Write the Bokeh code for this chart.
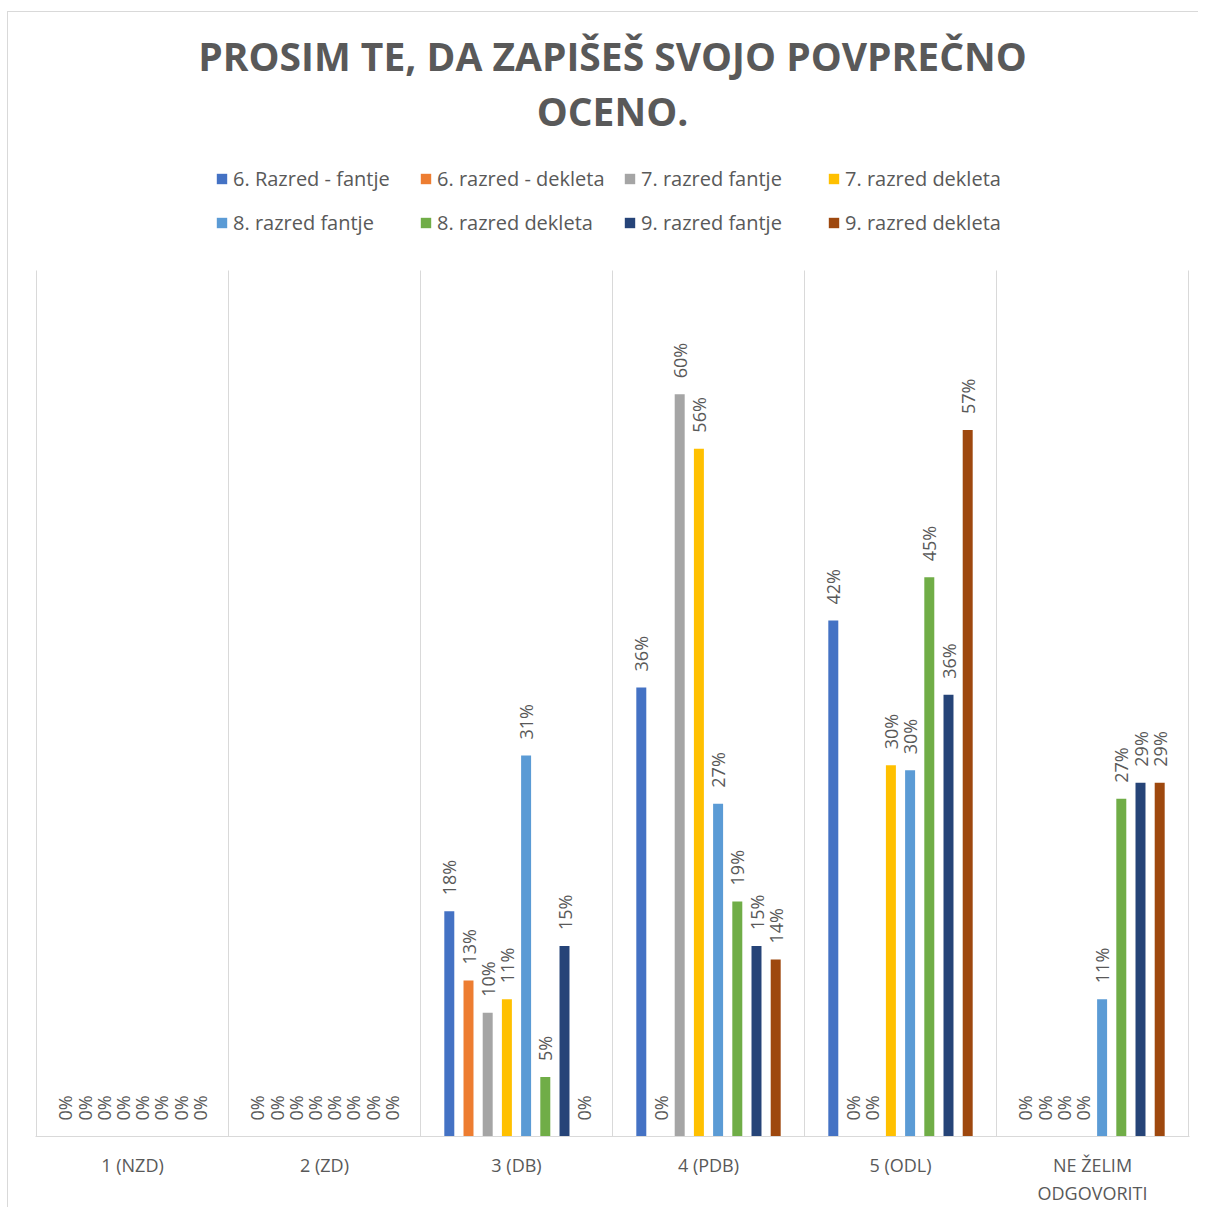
import math
from bokeh.plotting import figure
from bokeh.models import (ColumnDataSource, Range1d, FixedTicker, Legend, LegendItem, Title)
from bokeh.transform import dodge
from bokeh.core.properties import value
from bokeh.embed import file_html
from bokeh.resources import INLINE

categories = ["1 (NZD)", "2 (ZD)", "3 (DB)", "4 (PDB)", "5 (ODL)", "NE ŽELIM\nODGOVORITI"]
series_names = ["6. Razred - fantje", "6. razred - dekleta", "7. razred fantje", "7. razred dekleta",
                "8. razred fantje", "8. razred dekleta", "9. razred fantje", "9. razred dekleta"]
s6_fantje = [0, 0, 18.2, 36.3, 41.7, 0]
s6_dekleta = [0, 0, 12.6, 0, 0, 0]
s7_fantje = [0, 0, 10.0, 60.0, 0, 0]
s7_dekleta = [0, 0, 11.1, 55.6, 30.0, 0]
s8_fantje = [0, 0, 30.8, 26.9, 29.6, 11.1]
s8_dekleta = [0, 0, 4.8, 19.0, 45.2, 27.3]
s9_fantje = [0, 0, 15.4, 15.4, 35.7, 28.6]
s9_dekleta = [0, 0, 0, 14.3, 57.1, 28.6]
series_values = [s6_fantje, s6_dekleta, s7_fantje, s7_dekleta, s8_fantje, s8_dekleta, s9_fantje, s9_dekleta]
colors = ["#4472C4", "#ED7D31", "#A5A5A5", "#FFC000", "#5B9BD5", "#70AD47", "#264478", "#9E480E"]
y_axis_max = 0.7

TXT = "#595959"
GRID = "#d9d9d9"
FONT = "Open Sans"

# layout (pixels)
FRAME_H = 1000          # frame spans chart area plus legend band above it
PLOT_H = 866            # part of frame used by the value axis 0..y_axis_max
CAT_W = 192

ncat = len(categories)
xs = [i + 0.5 for i in range(ncat)]
data = {"x": xs}
for k, vals in enumerate(series_values):
    data[f"v{k}"] = [v / 100.0 for v in vals]
    data[f"l{k}"] = [f"{int(v + 0.5)}%" for v in vals]
src = ColumnDataSource(data)

pad = 1.0 / CAT_W
p = figure(width=1191, height=1196, output_backend="svg", toolbar_location=None,
           x_range=Range1d(-pad, ncat + pad),
           y_range=Range1d(0, y_axis_max * FRAME_H / PLOT_H),
           min_border_left=27, min_border_right=10, min_border_bottom=72, min_border_top=124,
           outline_line_color=None, background_fill_color="white", border_fill_color="white")
p.styles = {"margin-left": "7px", "margin-top": "11px",
            "border-top": "1px solid #d9d9d9", "border-left": "1px solid #d9d9d9"}

p.yaxis.visible = False
p.ygrid.visible = False
p.xgrid.visible = False

# vertical category separators, limited to the value axis extent
bounds = list(range(ncat + 1))
p.segment(x0=bounds, y0=[0] * len(bounds), x1=bounds, y1=[y_axis_max] * len(bounds),
          line_color=GRID, line_width=1)

p.xaxis.ticker = FixedTicker(ticks=xs)
p.xaxis.major_label_overrides = {x: c for x, c in zip(xs, categories)}
p.xaxis.axis_line_color = GRID
p.xaxis.axis_line_width = 1
p.xaxis.major_tick_line_color = None
p.xaxis.minor_tick_line_color = None
p.xaxis.major_label_text_font = FONT
p.xaxis.major_label_text_font_size = "18px"
p.xaxis.major_label_text_color = TXT
p.xaxis.major_label_standoff = 10

n = len(series_values)
bw = 0.052
items = []
for k in range(n):
    off = (k - (n - 1) / 2) * 0.1
    r = p.vbar(x=dodge("x", off, range=p.x_range), top=f"v{k}", width=bw, bottom=0,
               source=src, fill_color=colors[k], line_color=None)
    p.text(x=dodge("x", off, range=p.x_range), y=f"v{k}", text=f"l{k}", source=src,
           angle=math.pi / 2, text_align="left", text_baseline="middle", y_offset=-16,
           text_font=value(FONT), text_font_size="18px", text_color=TXT)
    items.append(LegendItem(label=series_names[k], renderers=[r]))

legend = Legend(items=items, ncols=4, orientation="horizontal", location=(180, 892),
                label_text_font=FONT, label_text_font_size="20px", label_text_color=TXT,
                glyph_width=13, glyph_height=13, label_standoff=5, spacing=0,
                label_width=186, border_line_color=None, background_fill_alpha=0,
                padding=0, margin=0, label_height=44)
p.add_layout(legend, "center")

t2 = Title(text="OCENO.", align="center", text_font=FONT, text_font_size="39px",
           text_font_style="bold", text_color=TXT, standoff=0)
t1 = Title(text="PROSIM TE, DA ZAPIŠEŠ SVOJO POVPREČNO", align="center", text_font=FONT,
           text_font_size="39px", text_font_style="bold", text_color=TXT, standoff=0)
p.add_layout(t2, "above")
p.add_layout(t1, "above")

open("out.html", "w").write(file_html(p, INLINE))
